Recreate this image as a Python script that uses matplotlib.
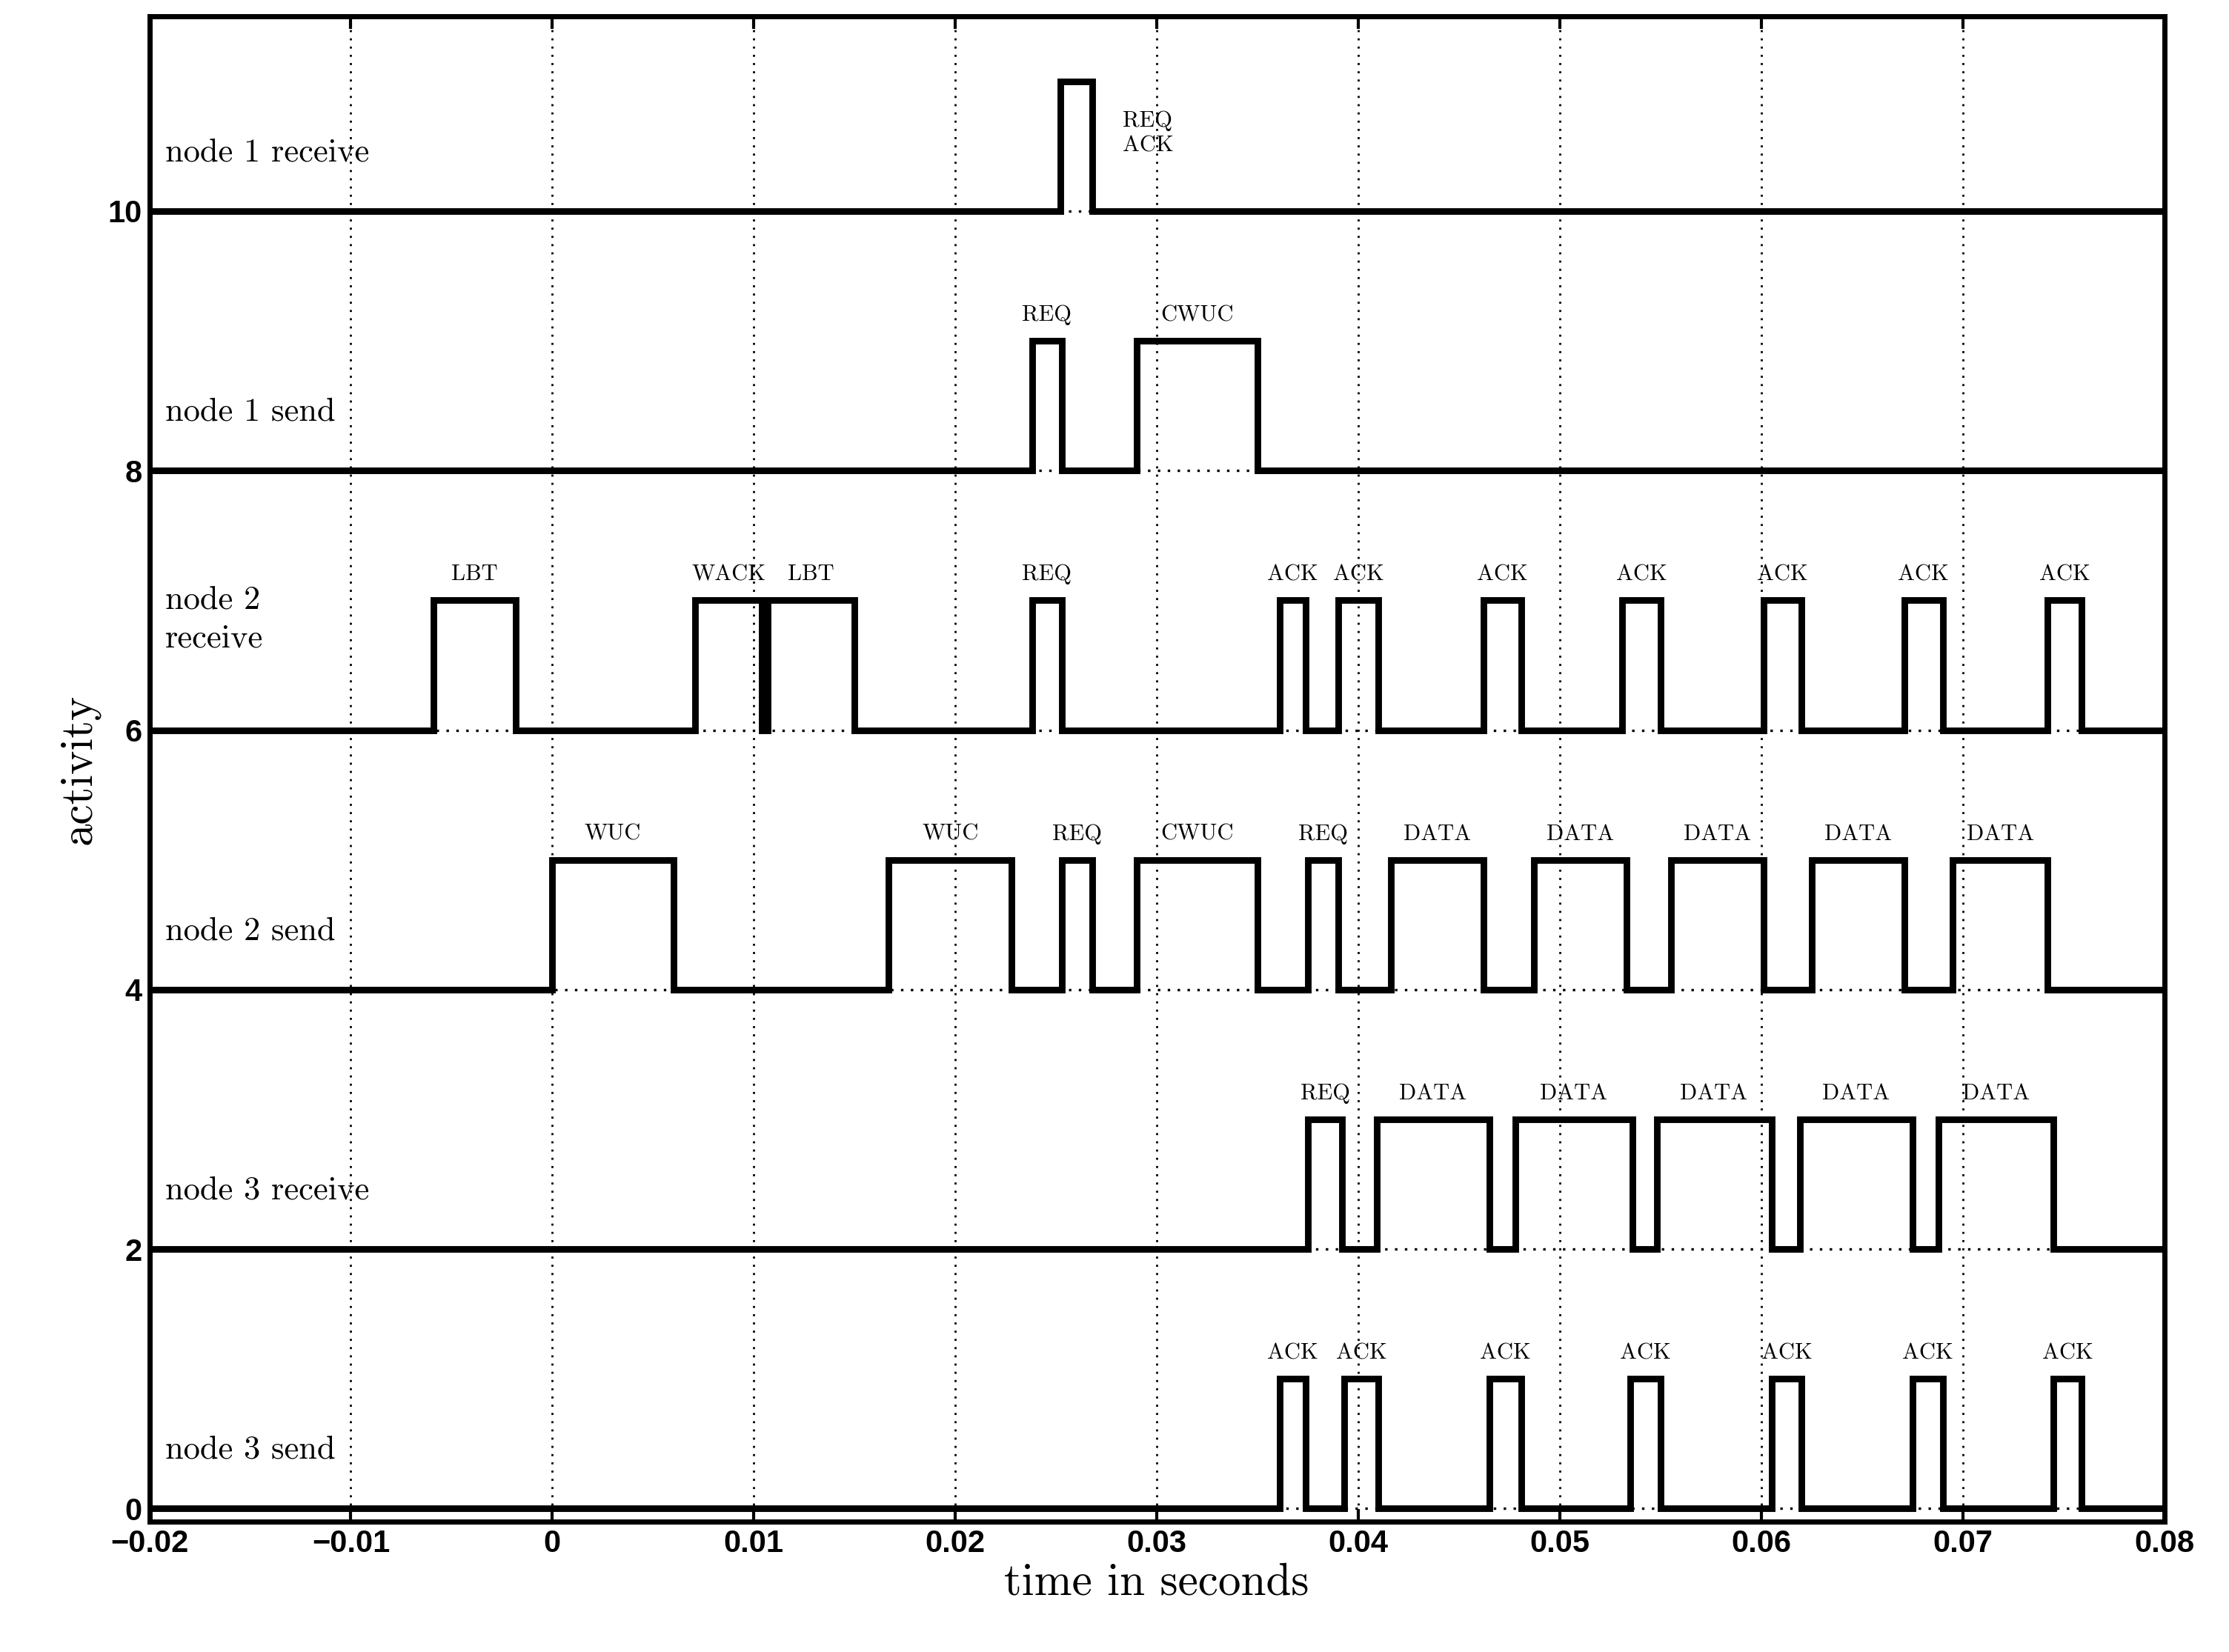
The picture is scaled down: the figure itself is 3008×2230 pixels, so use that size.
import matplotlib
matplotlib.use("Agg")
import matplotlib.pyplot as plt

bases = [10, 8, 6, 4, 2, 0]
names = ["node 1 receive", "node 1 send", "node 2\nreceive", "node 2 send", "node 3 receive", "node 3 send"]
pulses = [
    [(0.0252, 0.0268)],
    [(0.0238, 0.0253), (0.0290, 0.0350)],
    [(-0.0059, -0.0018), (0.0071, 0.0104), (0.0107, 0.0150), (0.0238, 0.0253), (0.0361, 0.0374),
     (0.0390, 0.0410), (0.0462, 0.0481), (0.0531, 0.0550), (0.0601, 0.0620), (0.0671, 0.0690), (0.0742, 0.0759)],
    [(0.0, 0.0060), (0.0167, 0.0228), (0.0253, 0.0268), (0.0290, 0.0350), (0.0375, 0.0390),
     (0.0416, 0.0462), (0.0487, 0.0533), (0.0555, 0.0601), (0.0625, 0.0671), (0.0695, 0.0742)],
    [(0.0375, 0.0392), (0.0409, 0.0465), (0.0478, 0.0536), (0.0548, 0.0605), (0.0619, 0.0675), (0.0688, 0.0745)],
    [(0.0361, 0.0374), (0.0393, 0.0410), (0.0465, 0.0481), (0.0535, 0.0550), (0.0605, 0.0620), (0.0675, 0.0690), (0.0745, 0.0759)],
]
labels = [
    ["REQ\nACK"],
    ["REQ", "CWUC"],
    ["LBT", "WACK", "LBT", "REQ", "ACK", "ACK", "ACK", "ACK", "ACK", "ACK", "ACK"],
    ["WUC", "WUC", "REQ", "CWUC", "REQ", "DATA", "DATA", "DATA", "DATA", "DATA"],
    ["REQ", "DATA", "DATA", "DATA", "DATA", "DATA"],
    ["ACK", "ACK", "ACK", "ACK", "ACK", "ACK", "ACK"],
]
xticks = [-0.02, -0.01, 0, 0.01, 0.02, 0.03, 0.04, 0.05, 0.06, 0.07, 0.08]
xticklabels = ["\u22120.02", "\u22120.01", "0", "0.01", "0.02", "0.03", "0.04", "0.05", "0.06", "0.07", "0.08"]
yticks = [0, 2, 4, 6, 8, 10]

fig = plt.figure(figsize=(15.04, 11.15), dpi=200)
ax = fig.add_axes([0.067, 0.079, 0.904, 0.911])
xmin, xmax = -0.02, 0.08
serif = "cmr10"
for base, name, pl, lb in zip(bases, names, pulses, labels):
    ax.plot([xmin, xmax], [base, base], color="black", lw=1.2, ls=(0, (1, 3)), zorder=1)
    t = [xmin]; y = [base]
    for s, e in pl:
        t += [s, s, e, e]; y += [base, base + 1, base + 1, base]
    t.append(xmax); y.append(base)
    ax.plot(t, y, color="black", lw=3.2, solid_joinstyle="miter", zorder=3)
    for (s, e), txt in zip(pl, lb):
        if "\n" in txt:
            ax.text(e + 0.0015, base + 0.6, txt, family=serif, fontsize=11, ha="left", va="center", linespacing=1.3)
        else:
            ax.text((s + e) / 2, base + 1.12, txt, family=serif, fontsize=11, ha="center", va="bottom")
    ny = base + 0.45 if "\n" not in name else base + 0.85
    ax.text(-0.0192, ny, name, family=serif, fontsize=16, ha="left", va="center", linespacing=1.4)

ax.set_xlim(xmin, xmax)
ax.set_ylim(-0.1, 11.5)
ax.set_xticks(xticks)
ax.set_xticklabels(xticklabels, family="Liberation Sans", fontweight="bold", fontsize=15)
ax.set_yticks(yticks)
ax.set_yticklabels([str(v) for v in yticks], family="Liberation Sans", fontweight="bold", fontsize=15)
ax.xaxis.grid(True, color="black", ls=(0, (1, 3)), lw=1.0)
ax.tick_params(direction="in", length=6, width=1.5, top=True, right=True)
for s in ax.spines.values():
    s.set_linewidth(2.5)
ax.set_xlabel("time in seconds", family=serif, fontsize=22, labelpad=2)
ax.set_ylabel("activity", family=serif, fontsize=22)
fig.savefig("out.png", dpi=200)
